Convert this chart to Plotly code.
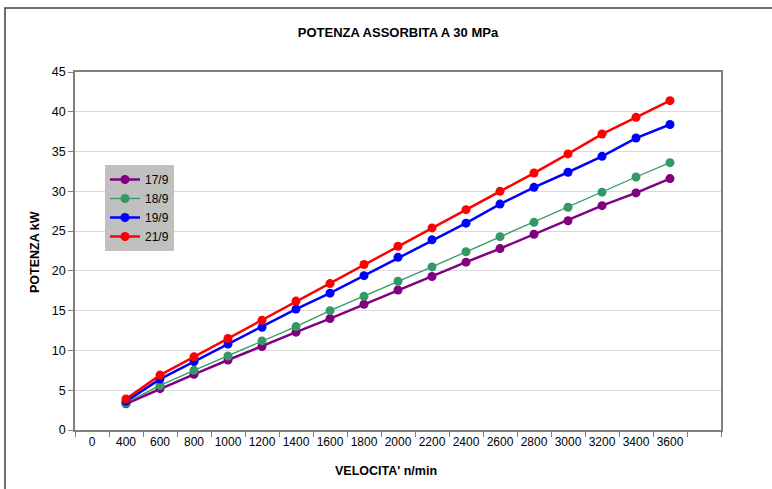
import plotly.graph_objects as go

# ---- data ----
categories = ["0", "400", "600", "800", "1000", "1200", "1400", "1600", "1800", "2000",
              "2200", "2400", "2600", "2800", "3000", "3200", "3400", "3600", " "]
speeds = ["400", "600", "800", "1000", "1200", "1400", "1600", "1800", "2000",
          "2200", "2400", "2600", "2800", "3000", "3200", "3400", "3600"]
s_17_9 = [3.3, 5.2, 7.0, 8.8, 10.5, 12.3, 14.0, 15.8, 17.6, 19.3, 21.1, 22.8, 24.6, 26.3, 28.2, 29.8, 31.6]
s_18_9 = [3.4, 5.6, 7.5, 9.3, 11.2, 13.0, 15.0, 16.8, 18.7, 20.5, 22.4, 24.3, 26.1, 28.0, 29.9, 31.8, 33.6]
s_19_9 = [3.6, 6.4, 8.6, 10.8, 12.9, 15.2, 17.2, 19.4, 21.7, 23.9, 26.0, 28.4, 30.5, 32.4, 34.4, 36.7, 38.4]
s_21_9 = [3.9, 6.9, 9.2, 11.5, 13.8, 16.2, 18.4, 20.8, 23.1, 25.4, 27.7, 30.0, 32.3, 34.7, 37.2, 39.3, 41.4]
series_names = ["17/9", "18/9", "19/9", "21/9"]
y_ticks = [0, 5, 10, 15, 20, 25, 30, 35, 40, 45]

FONT = "Liberation Sans, Arial, sans-serif"

fig = go.Figure()
styles = [
    ("#800080", 2.5),
    ("#339966", 1.3),
    ("#0000ff", 2.5),
    ("#ff0000", 2.5),
]
for name, vals, (col, w) in zip(series_names, [s_17_9, s_18_9, s_19_9, s_21_9], styles):
    fig.add_trace(go.Scatter(
        x=speeds, y=vals, name=name, mode="lines+markers",
        line=dict(color=col, width=w),
        marker=dict(color=col, size=9, symbol="circle"),
    ))

W, H = 772, 489
L, R, T, B = 75, 51, 72, 59
pw, ph = W - L - R, H - T - B

def px_x(p):
    return (p - L) / pw

def px_y(p):
    return (H - B - p) / ph

fig.update_layout(
    width=W, height=H,
    margin=dict(l=L, r=R, t=T, b=B, autoexpand=False),
    paper_bgcolor="white", plot_bgcolor="white",
    font=dict(family=FONT, size=12, color="black"),
    title=dict(text="<b>POTENZA ASSORBITA A 30 MPa</b>", x=398 / W, xanchor="center",
               y=1 - 32 / H, yanchor="middle", font=dict(size=13, family=FONT)),
    showlegend=True,
    legend=dict(x=px_x(105), y=px_y(165), xanchor="left", yanchor="top",
                bgcolor="#c0c0c0", bordercolor="#a0a0a0", borderwidth=0,
                font=dict(size=12, family=FONT), tracegroupgap=0,
                itemwidth=30),
    xaxis=dict(
        type="category", categoryorder="array", categoryarray=categories,
        range=[-0.5, len(categories) - 0.5], tickangle=0, automargin=False,
        tickson="boundaries", ticks="outside", ticklen=5, tickcolor="#808080",
        showgrid=False, showline=True, linecolor="#808080", linewidth=1.5, mirror=True,
        tickfont=dict(size=12, family=FONT), zeroline=False,
    ),
    yaxis=dict(
        range=[0, 45], tickvals=y_ticks, ticks="outside", ticklen=5, tickcolor="#808080",
        showgrid=True, gridcolor="#d9d9d9", gridwidth=1, automargin=False,
        showline=True, linecolor="#808080", linewidth=1.5, mirror=True,
        tickfont=dict(size=12.5, family=FONT), zeroline=False,
    ),
    annotations=[
        dict(text="<b>VELOCITA' n/min</b>", xref="paper", yref="paper",
             x=px_x(386), y=px_y(471), xanchor="center", yanchor="middle",
             showarrow=False, font=dict(size=12.5, family=FONT)),
        dict(text="<b>POTENZA kW</b>", xref="paper", yref="paper",
             x=px_x(35), y=px_y(252), xanchor="center", yanchor="middle",
             textangle=-90, showarrow=False, font=dict(size=12.5, family=FONT)),
    ],
    shapes=[
        dict(type="rect", xref="paper", yref="paper",
             x0=px_x(5), x1=px_x(780), y0=px_y(495), y1=px_y(8),
             line=dict(color="#404040", width=1.5), fillcolor="rgba(0,0,0,0)", layer="below"),
    ],
)

fig.write_html("out.html", config={"displayModeBar": False},
               post_script="document.body.style.margin='0';")
